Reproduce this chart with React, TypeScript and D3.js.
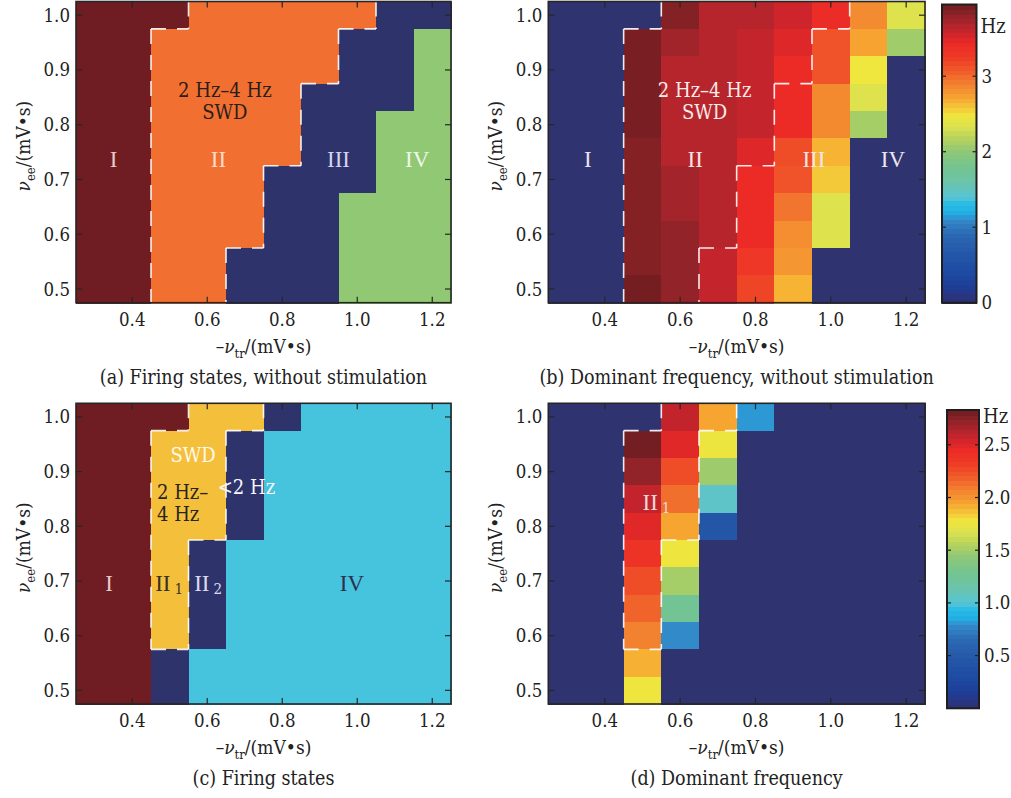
import React from "react";
import * as d3 from "d3";

// ---------- data ----------
const xCenters = [0.3, 0.4, 0.5, 0.6, 0.7, 0.8, 0.9, 1.0, 1.1, 1.2];
const yCenters = [1.0, 0.95, 0.9, 0.85, 0.8, 0.75, 0.7, 0.65, 0.6, 0.55, 0.5];
const xTicks = [0.4, 0.6, 0.8, 1.0, 1.2];
const yTicks = [0.5, 0.6, 0.7, 0.8, 0.9, 1.0];

// (a) firing states without stimulation; rows follow yCenters, columns follow xCenters
const statesNoStim = [
  ["I", "I", "I", "II", "II", "II", "II", "II", "III", "III"],
  ["I", "I", "II", "II", "II", "II", "II", "III", "III", "IV"],
  ["I", "I", "II", "II", "II", "II", "II", "III", "III", "IV"],
  ["I", "I", "II", "II", "II", "II", "III", "III", "III", "IV"],
  ["I", "I", "II", "II", "II", "II", "III", "III", "IV", "IV"],
  ["I", "I", "II", "II", "II", "II", "III", "III", "IV", "IV"],
  ["I", "I", "II", "II", "II", "III", "III", "III", "IV", "IV"],
  ["I", "I", "II", "II", "II", "III", "III", "IV", "IV", "IV"],
  ["I", "I", "II", "II", "II", "III", "III", "IV", "IV", "IV"],
  ["I", "I", "II", "II", "III", "III", "III", "IV", "IV", "IV"],
  ["I", "I", "II", "II", "III", "III", "III", "IV", "IV", "IV"],
];

// (b) dominant frequency (Hz) without stimulation
const freqNoStim = [
  [0, 0, 0, 3.87, 3.67, 3.67, 3.57, 3.42, 2.85, 2.37],
  [0, 0, 3.91, 3.75, 3.67, 3.61, 3.5, 3.12, 2.73, 2.09],
  [0, 0, 3.91, 3.67, 3.67, 3.61, 3.44, 3.12, 2.49, 0],
  [0, 0, 3.91, 3.67, 3.67, 3.61, 3.44, 2.86, 2.37, 0],
  [0, 0, 3.91, 3.67, 3.67, 3.61, 3.44, 2.86, 2.11, 0],
  [0, 0, 3.87, 3.67, 3.67, 3.5, 3.16, 2.67, 0, 0],
  [0, 0, 3.87, 3.74, 3.67, 3.44, 3.12, 2.59, 0, 0],
  [0, 0, 3.87, 3.74, 3.67, 3.44, 2.96, 2.37, 0, 0],
  [0, 0, 3.87, 3.81, 3.67, 3.44, 2.84, 2.37, 0, 0],
  [0, 0, 3.87, 3.81, 3.61, 3.3, 2.8, 0, 0, 0],
  [0, 0, 3.93, 3.81, 3.61, 3.2, 2.67, 0, 0, 0],
];

// (c) firing states with stimulation
const statesStim = [
  ["I", "I", "I", "II", "II", "N", "IV", "IV", "IV", "IV"],
  ["I", "I", "II", "II", "N", "IV", "IV", "IV", "IV", "IV"],
  ["I", "I", "II", "II", "N", "IV", "IV", "IV", "IV", "IV"],
  ["I", "I", "II", "II", "N", "IV", "IV", "IV", "IV", "IV"],
  ["I", "I", "II", "II", "N", "IV", "IV", "IV", "IV", "IV"],
  ["I", "I", "II", "N", "IV", "IV", "IV", "IV", "IV", "IV"],
  ["I", "I", "II", "N", "IV", "IV", "IV", "IV", "IV", "IV"],
  ["I", "I", "II", "N", "IV", "IV", "IV", "IV", "IV", "IV"],
  ["I", "I", "II", "N", "IV", "IV", "IV", "IV", "IV", "IV"],
  ["I", "I", "N", "IV", "IV", "IV", "IV", "IV", "IV", "IV"],
  ["I", "I", "N", "IV", "IV", "IV", "IV", "IV", "IV", "IV"],
];

// (d) dominant frequency (Hz) with stimulation
const freqStim = [
  [0, 0, 0, 2.59, 1.95, 0.82, 0, 0, 0, 0],
  [0, 0, 2.82, 2.5, 1.77, 0, 0, 0, 0, 0],
  [0, 0, 2.73, 2.26, 1.49, 0, 0, 0, 0, 0],
  [0, 0, 2.59, 2.14, 1.05, 0, 0, 0, 0, 0],
  [0, 0, 2.5, 1.95, 0.47, 0, 0, 0, 0, 0],
  [0, 0, 2.39, 1.78, 0, 0, 0, 0, 0, 0],
  [0, 0, 2.26, 1.51, 0, 0, 0, 0, 0, 0],
  [0, 0, 2.18, 1.27, 0, 0, 0, 0, 0, 0],
  [0, 0, 2.08, 0.79, 0, 0, 0, 0, 0, 0],
  [0, 0, 1.92, 0, 0, 0, 0, 0, 0, 0],
  [0, 0, 1.78, 0, 0, 0, 0, 0, 0, 0],
];

const cbTicksNoStim = [0, 1, 2, 3];
const cbTicksStim = [0.5, 1.0, 1.5, 2.0, 2.5];
const cbMaxNoStim = 3.95;
const cbMaxStim = 2.83;

// ---------- styles ----------
const FONT = "'DejaVu Serif Condensed', 'DejaVu Serif', serif";
const RFONT = "'Liberation Serif', serif";
const NAVY = "#2f336b";
const stateColorsA: Record<string, string> = { I: "#6f1d22", II: "#f17031", III: NAVY, IV: "#91c873" };
const stateColorsC: Record<string, string> = { I: "#6f1d22", II: "#f4c03b", N: NAVY, IV: "#46c4de" };

const cmapT = [0, 0.01, 0.054, 0.1, 0.166, 0.233, 0.278, 0.306, 0.334, 0.356, 0.41, 0.457, 0.507, 0.546, 0.59, 0.63, 0.66, 0.69, 0.737, 0.78, 0.826, 0.871, 0.905, 0.938, 0.972, 1.0];
const cmapC = ["#2f3470", "#2d3277", "#1f3d95", "#1d4aa2", "#2456a8", "#2c6ab4", "#3488c8", "#22b0e4", "#28bce6", "#58c4d4", "#6cc4a8", "#74c490", "#8cc878", "#b0d060", "#d8e050", "#efe63e", "#f5c438", "#f6a431", "#f28030", "#f05a2a", "#ee3a26", "#ec2a26", "#cd242b", "#ad252d", "#8a2227", "#6f1d21"];
const cmap = d3.scaleLinear<string>().domain(cmapT).range(cmapC).interpolate(d3.interpolateRgb).clamp(true);

type Box = { x0: number; x1: number; y0: number; y1: number };
const boxA: Box = { x0: 76, x1: 451, y0: 1.5, y1: 302.7 };
const boxB: Box = { x0: 548.3, x1: 925, y0: 1.5, y1: 302.7 };
const boxC: Box = { x0: 76, x1: 451, y0: 403.3, y1: 704 };
const boxD: Box = { x0: 548.3, x1: 925, y0: 403.3, y1: 704 };

function mkScales(b: Box) {
  const x = d3.scaleLinear().domain([0.25, 1.25]).range([b.x0, b.x1]);
  const y = d3.scaleLinear().domain([0.475, 1.025]).range([b.y1, b.y0]);
  return { x, y };
}

function boundary(grid: string[][], target: string) {
  const hs = new Map<string, [number, number][]>();
  const vs = new Map<string, [number, number][]>();
  const add = (m: Map<string, [number, number][]>, k: number, a: number, b: number) => {
    const key = k.toFixed(4);
    if (!m.has(key)) m.set(key, []);
    m.get(key)!.push([a, b]);
  };
  const nR = grid.length, nC = grid[0].length;
  for (let r = 0; r < nR; r++) {
    for (let c = 0; c < nC; c++) {
      if (grid[r][c] !== target) continue;
      const xc = xCenters[c], yc = yCenters[r];
      if (r > 0 && grid[r - 1][c] !== target) add(hs, yc + 0.025, xc - 0.05, xc + 0.05);
      if (r < nR - 1 && grid[r + 1][c] !== target) add(hs, yc - 0.025, xc - 0.05, xc + 0.05);
      if (c > 0 && grid[r][c - 1] !== target) add(vs, xc - 0.05, yc - 0.025, yc + 0.025);
      if (c < nC - 1 && grid[r][c + 1] !== target) add(vs, xc + 0.05, yc - 0.025, yc + 0.025);
    }
  }
  const merge = (arr: [number, number][]) => {
    arr.sort((p, q) => p[0] - q[0]);
    const out: [number, number][] = [];
    for (const s of arr) {
      const last = out[out.length - 1];
      if (last && Math.abs(last[1] - s[0]) < 1e-6) last[1] = s[1];
      else out.push([s[0], s[1]]);
    }
    return out;
  };
  const segs: { x1: number; y1: number; x2: number; y2: number }[] = [];
  hs.forEach((arr, k) => merge(arr).forEach(([a, b]) => segs.push({ x1: a, x2: b, y1: +k, y2: +k })));
  vs.forEach((arr, k) => merge(arr).forEach(([a, b]) => segs.push({ x1: +k, x2: +k, y1: b, y2: a })));
  return segs;
}

type Label = { t: string; x: number; y: number; color: string; anchor?: string; size?: number; font?: string; sub?: string };

function Panel(props: {
  box: Box;
  fill: (r: number, c: number) => string;
  dashed: { x1: number; y1: number; x2: number; y2: number }[];
  labels: Label[];
  caption: string;
}) {
  const { box, fill, dashed, labels, caption } = props;
  const { x, y } = mkScales(box);
  const cx = (box.x0 + box.x1) / 2;
  const cy = (box.y0 + box.y1) / 2;
  return (
    <g>
      <g shapeRendering="crispEdges">
        {yCenters.map((yc, r) =>
          xCenters.map((xc, c) => (
            <rect
              key={`${r}-${c}`}
              x={x(xc - 0.05)}
              y={y(yc + 0.025)}
              width={x(xc + 0.05) - x(xc - 0.05) + 1}
              height={y(yc - 0.025) - y(yc + 0.025) + 1}
              fill={fill(r, c)}
            />
          ))
        )}
      </g>
      {dashed.map((s, i) => (
        <line
          key={i}
          x1={x(s.x1)}
          y1={y(s.y1)}
          x2={x(s.x2)}
          y2={y(s.y2)}
          stroke="#ffffff"
          strokeOpacity={0.9}
          strokeWidth={1.6}
          strokeDasharray="15 11"
        />
      ))}
      {labels.map((l, i) => (
        <text
          key={i}
          x={x(l.x)}
          y={y(l.y)}
          fill={l.color}
          textAnchor={(l.anchor as any) || "middle"}
          fontFamily={l.font || FONT}
          fontSize={l.size || 20}
        >
          {l.t}
          {l.sub ? (
            <tspan fontSize={15} dx={4} dy={3} fontFamily={FONT}>
              {l.sub}
            </tspan>
          ) : null}
        </text>
      ))}
      <rect x={box.x0} y={box.y0} width={box.x1 - box.x0} height={box.y1 - box.y0} fill="none" stroke="#262626" strokeWidth={1.6} />
      {xTicks.map((t) => (
        <g key={"xt" + t}>
          <line x1={x(t)} x2={x(t)} y1={box.y1} y2={box.y1 - 6} stroke="#262626" strokeWidth={1.2} />
          <line x1={x(t)} x2={x(t)} y1={box.y0} y2={box.y0 + 6} stroke="#262626" strokeWidth={1.2} />
          <text x={x(t)} y={box.y1 + 23} textAnchor="middle" fontFamily={FONT} fontSize={18.5} fill="#222">
            {d3.format(".1f")(t)}
          </text>
        </g>
      ))}
      {yTicks.map((t) => (
        <g key={"yt" + t}>
          <line x1={box.x0} x2={box.x0 + 6} y1={y(t)} y2={y(t)} stroke="#262626" strokeWidth={1.2} />
          <line x1={box.x1} x2={box.x1 - 6} y1={y(t)} y2={y(t)} stroke="#262626" strokeWidth={1.2} />
          <text x={box.x0 - 6} y={y(t) + 6.5} textAnchor="end" fontFamily={FONT} fontSize={18.5} fill="#222">
            {d3.format(".1f")(t)}
          </text>
        </g>
      ))}
      <text x={cx} y={box.y1 + 50} textAnchor="middle" fontFamily={FONT} fontSize={19} fill="#222">
        –<tspan fontStyle="italic">ν</tspan>
        <tspan fontSize={13} dy={5}>tr</tspan>
        <tspan dy={-5}>/(mV•s)</tspan>
      </text>
      <text transform={`translate(${box.x0 - 46},${cy - 6}) rotate(-90)`} textAnchor="middle" fontFamily={FONT} fontSize={19} fill="#222">
        <tspan fontStyle="italic">ν</tspan>
        <tspan fontSize={13} dy={5}>ee</tspan>
        <tspan dy={-5}>/(mV•s)</tspan>
      </text>
      <text x={cx} y={box.y1 + 81} textAnchor="middle" fontFamily={FONT} fontSize={19.5} fill="#222">
        {caption}
      </text>
    </g>
  );
}

function Colorbar(props: { x0: number; x1: number; y0: number; y1: number; max: number; ticks: number[]; fmt: string; hzY: number }) {
  const { x0, x1, y0, y1, max, ticks, fmt, hzY } = props;
  const s = d3.scaleLinear().domain([0, max]).range([y1, y0]);
  const n = 64;
  const bands = d3.range(n);
  return (
    <g>
      <g shapeRendering="crispEdges">
        {bands.map((i) => {
          const v0 = (i / n) * max;
          const v1 = ((i + 1) / n) * max;
          return <rect key={i} x={x0} y={s(v1)} width={x1 - x0} height={s(v0) - s(v1) + 1} fill={cmap((i + 0.5) / n)} />;
        })}
      </g>
      <rect x={x0} y={y0} width={x1 - x0} height={y1 - y0} fill="none" stroke="#1e1e1e" strokeWidth={2} />
      {ticks.map((t) => (
        <g key={t}>
          <line x1={x0} x2={x0 + 4} y1={s(t)} y2={s(t)} stroke="#222" strokeWidth={1.2} />
          <line x1={x1} x2={x1 - 4} y1={s(t)} y2={s(t)} stroke="#222" strokeWidth={1.2} />
          <text x={x1 + 5} y={s(t) + 6.5} fontFamily={FONT} fontSize={18.5} fill="#222">
            {d3.format(fmt)(t)}
          </text>
        </g>
      ))}
      <text x={x1 + 4} y={hzY} fontFamily={FONT} fontSize={20} fill="#222">
        Hz
      </text>
    </g>
  );
}

const labelsA: Label[] = [
  { t: "I", x: 0.35, y: 0.722, color: "#e6c9c9", font: RFONT, size: 23 },
  { t: "II", x: 0.63, y: 0.722, color: "#fbdcc8", font: RFONT, size: 23 },
  { t: "III", x: 0.95, y: 0.722, color: "#d4d4ee", font: RFONT, size: 23 },
  { t: "IV", x: 1.16, y: 0.722, color: "#eef8ea", font: RFONT, size: 23 },
  { t: "2 Hz–4 Hz", x: 0.647, y: 0.851, color: "#2a1d1a" },
  { t: "SWD", x: 0.647, y: 0.81, color: "#2a1d1a" },
];
const labelsB: Label[] = [
  { t: "I", x: 0.355, y: 0.722, color: "#ece4ee", font: RFONT, size: 23 },
  { t: "II", x: 0.64, y: 0.722, color: "#f4e4e4", font: RFONT, size: 23 },
  { t: "III", x: 0.955, y: 0.722, color: "#f4e4e4", font: RFONT, size: 23 },
  { t: "IV", x: 1.165, y: 0.722, color: "#ece4ee", font: RFONT, size: 23 },
  { t: "2 Hz–4 Hz", x: 0.665, y: 0.851, color: "#fbecec" },
  { t: "SWD", x: 0.665, y: 0.81, color: "#fbecec" },
];
const labelsC: Label[] = [
  { t: "SWD", x: 0.562, y: 0.917, color: "#fff8ec" },
  { t: "2 Hz–", x: 0.466, y: 0.85, color: "#2a2420", anchor: "start" },
  { t: "4 Hz", x: 0.466, y: 0.81, color: "#2a2420", anchor: "start" },
  { t: "<2 Hz", x: 0.628, y: 0.859, color: "#f6f6fb", anchor: "start" },
  { t: "I", x: 0.338, y: 0.682, color: "#e6c9c9", font: RFONT, size: 23 },
  { t: "II", x: 0.461, y: 0.682, color: "#3b3026", font: RFONT, size: 23, anchor: "start", sub: "1" },
  { t: "II", x: 0.565, y: 0.682, color: "#dcdcee", font: RFONT, size: 23, anchor: "start", sub: "2" },
  { t: "IV", x: 0.986, y: 0.682, color: "#2d3050", font: RFONT, size: 23 },
];
const labelsD: Label[] = [
  { t: "II", x: 0.5, y: 0.83, color: "#f0dada", font: RFONT, size: 23, anchor: "start", sub: "1" },
];

export default function App() {
  const segA = boundary(statesNoStim, "II");
  const segC = boundary(statesStim, "II");
  return (
    <svg
      width={1011}
      height={798}
      viewBox="0 0 1011 798"
      style={{ position: "absolute", left: 0, top: 0, display: "block", background: "#fff" }}
    >
      <rect x={0} y={0} width={1011} height={798} fill="#fff" />
      <Panel
        box={boxA}
        fill={(r, c) => stateColorsA[statesNoStim[r][c]]}
        dashed={segA}
        labels={labelsA}
        caption="(a) Firing states, without stimulation"
      />
      <Panel
        box={boxB}
        fill={(r, c) => cmap(freqNoStim[r][c] / cbMaxNoStim)}
        dashed={segA}
        labels={labelsB}
        caption="(b) Dominant frequency, without stimulation"
      />
      <Panel
        box={boxC}
        fill={(r, c) => stateColorsC[statesStim[r][c]]}
        dashed={segC}
        labels={labelsC}
        caption="(c) Firing states"
      />
      <Panel
        box={boxD}
        fill={(r, c) => cmap(freqStim[r][c] / cbMaxStim)}
        dashed={segC}
        labels={labelsD}
        caption="(d) Dominant frequency"
      />
      <Colorbar x0={942} x1={976.5} y0={4.5} y1={302.7} max={cbMaxNoStim} ticks={cbTicksNoStim} fmt="d" hzY={33} />
      <Colorbar x0={947} x1={979} y0={410} y1={708.3} max={cbMaxStim} ticks={cbTicksStim} fmt=".1f" hzY={423} />
    </svg>
  );
}
